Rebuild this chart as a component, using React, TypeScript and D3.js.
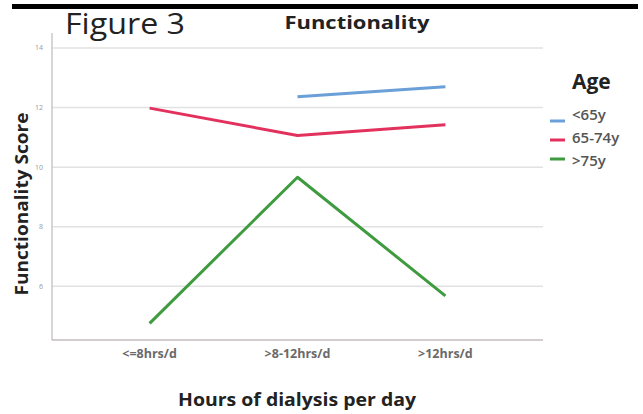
import React from "react";
import * as d3 from "d3";

const categories = ["<=8hrs/d", ">8-12hrs/d", ">12hrs/d"];
const yTicks = [6, 8, 10, 12, 14];
const seriesNames = ["<65y", "65-74y", ">75y"];
const under65: (number | null)[] = [null, 12.36, 12.7];
const age65to74: (number | null)[] = [11.98, 11.06, 11.42];
const over75: (number | null)[] = [4.76, 9.66, 5.68];
const seriesColors = ["#6a9fd8", "#e3315e", "#3f9b3f"];

const W = 643;
const H = 414;
const left = 52;
const right = 543;
const top = 33;
const bottom = 340;

export default function App() {
  const x = d3.scalePoint<string>().domain(categories).range([left, right]).padding(0.66);
  const y = d3.scaleLinear().domain([4.2, 14.5]).range([bottom, top]);
  const allSeries = [under65, age65to74, over75];
  const line = d3
    .line<number | null>()
    .defined((d) => d !== null)
    .x((_, i) => x(categories[i]) as number)
    .y((d) => y(d as number));

  const font = "'Open Sans', 'DejaVu Sans', sans-serif";

  return (
    <svg
      width={W}
      height={H}
      style={{ position: "absolute", left: 0, top: 0, background: "#fff" }}
      fontFamily={font}
    >
      <rect x={12} y={4} width={626} height={5} fill="#000" />
      <text x={65} y={34} fontSize={29} fill="#222" textLength={120} lengthAdjust="spacingAndGlyphs">
        Figure 3
      </text>
      <text
        x={357}
        y={29}
        fontSize={18}
        fontWeight="bold"
        fill="#222"
        textAnchor="middle"
        textLength={145}
        lengthAdjust="spacingAndGlyphs"
      >
        Functionality
      </text>

      {yTicks.map((t) => (
        <g key={t}>
          <line x1={left} x2={right} y1={y(t)} y2={y(t)} stroke="#e2e2e2" strokeWidth={1.5} />
          <text x={43} y={y(t) + 2.5} fontSize={7} fill="#999" textAnchor="end">
            {t}
          </text>
        </g>
      ))}
      <line x1={left} x2={left} y1={top} y2={bottom} stroke="#c8c8c8" strokeWidth={1.5} />
      <line x1={left} x2={right} y1={bottom} y2={bottom} stroke="#c2bcbc" strokeWidth={1.5} />

      {categories.map((c) => (
        <text key={c} x={x(c)} y={358} fontSize={12.5} fontWeight={700} fill="#6a6a6a" textAnchor="middle">
          {c}
        </text>
      ))}

      <text
        transform={`translate(28,204) rotate(-90)`}
        fontSize={17}
        fontWeight="bold"
        fill="#222"
        textAnchor="middle"
        textLength={183}
        lengthAdjust="spacingAndGlyphs"
      >
        Functionality Score
      </text>
      <text
        x={297}
        y={406}
        fontSize={17}
        fontWeight="bold"
        fill="#222"
        textAnchor="middle"
        textLength={238}
        lengthAdjust="spacingAndGlyphs"
      >
        Hours of dialysis per day
      </text>

      {allSeries.map((s, i) => (
        <path
          key={seriesNames[i]}
          d={line(s) || ""}
          fill="none"
          stroke={seriesColors[i]}
          strokeWidth={3}
          strokeLinejoin="round"
        />
      ))}

      <text x={572} y={89} fontSize={21} fontWeight="bold" fill="#222">Age</text>
      {seriesNames.map((n, i) => (
        <g key={n}>
          <line
            x1={550}
            x2={565}
            y1={121 + i * 19}
            y2={121 + i * 19}
            stroke={seriesColors[i]}
            strokeWidth={3}
          />
          <text x={572} y={120 + i * 23} fontSize={15} fontWeight={600} fill="#555">
            {n}
          </text>
        </g>
      ))}
    </svg>
  );
}
